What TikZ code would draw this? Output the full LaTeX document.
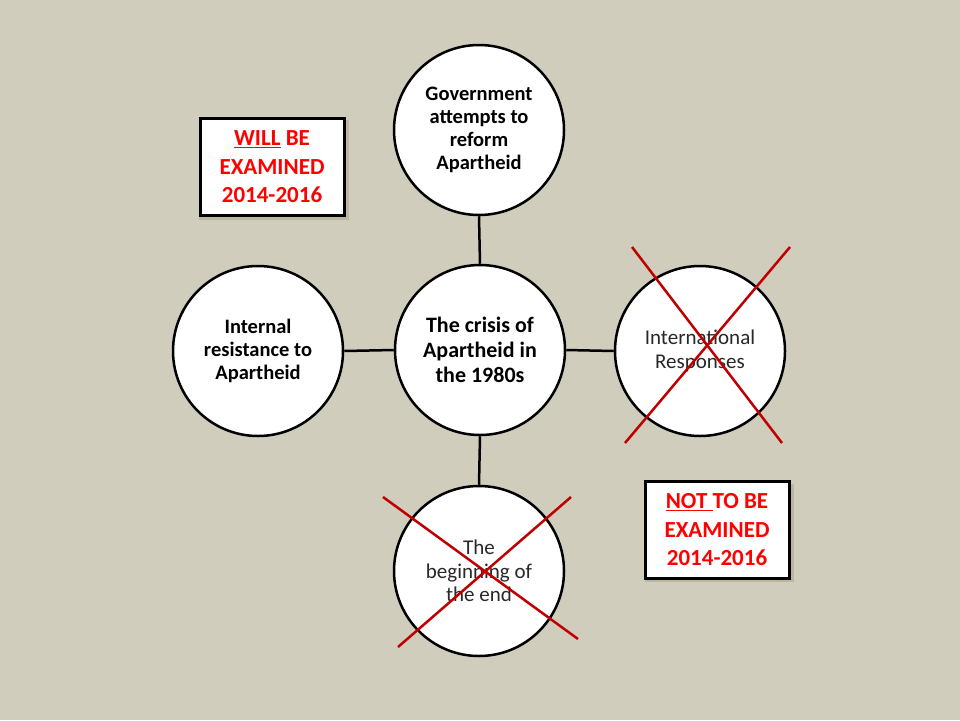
\documentclass[tikz,border=0pt]{standalone}
\usepackage{fontspec}
\setmainfont{Carlito}
\definecolor{bg}{RGB}{209,205,189}
\definecolor{shadowc}{RGB}{188,182,158}
\definecolor{xred}{RGB}{192,0,0}
\definecolor{tred}{RGB}{255,0,0}
\definecolor{tgray}{RGB}{40,40,40}
\begin{document}
\begin{tikzpicture}[x=1pt,y=-1pt,
  circ/.style={circle,draw=black,line width=2.5pt,fill=white,minimum size=170pt,inner sep=0pt,align=center},
  boldtxt/.style={font=\fontsize{20.5}{23}\selectfont\bfseries},
  thintxt/.style={font=\fontsize{21}{23.5}\selectfont,text=tgray},
  conn/.style={line width=2.5pt},
  cross/.style={draw=xred,line width=2.5pt},
  note/.style={draw=black,line width=3pt,fill=white,minimum width=144pt,minimum height=97pt,align=center,text=tred,font=\fontsize{23}{28.5}\selectfont\bfseries,inner sep=0pt}
]
\fill[bg] (0,0) rectangle (960,720);
\useasboundingbox (0,0) rectangle (960,720);

\node[circ,font=\fontsize{22}{25}\selectfont\bfseries] (c) at (480,350) {The crisis of\\Apartheid in\\the 1980s};
\node[circ,boldtxt] (t) at (479,130) {Government\\attempts to\\reform\\Apartheid};
\node[circ,boldtxt] (l) at (258,351) {Internal\\resistance to\\Apartheid};
\node[circ,thintxt] (r) at (700,351) {International\\Responses};
\node[circ,thintxt] (b) at (479,571) {The\\beginning of\\the end};

\draw[conn] (c.north) -- (t.south);
\draw[conn] (c.west) -- (l.east);
\draw[conn] (c.east) -- (r.west);
\draw[conn] (c.south) -- (b.north);

\coordinate (r1a) at (632,247); \coordinate (r1b) at (782,443);
\coordinate (r2a) at (790,247); \coordinate (r2b) at (625,443);
\draw[cross] (r1a) -- (r1b);
\draw[cross] (r2a) -- (r2b);
\coordinate (b1a) at (383,497); \coordinate (b1b) at (578,639);
\coordinate (b2a) at (571,497); \coordinate (b2b) at (398,647);
\draw[cross] (b1a) -- (b1b);
\draw[cross] (b2a) -- (b2b);

\fill[shadowc] (199,120) rectangle (349,220);
\node[note] (w) at (272,167) {\underline{WILL} BE\\EXAMINED\\2014-2016};
\fill[shadowc] (645,484) rectangle (794,582);
\node[note] (n) at (717,530) {\underline{NOT\ }TO BE\\EXAMINED\\2014-2016};
\end{tikzpicture}
\end{document}
